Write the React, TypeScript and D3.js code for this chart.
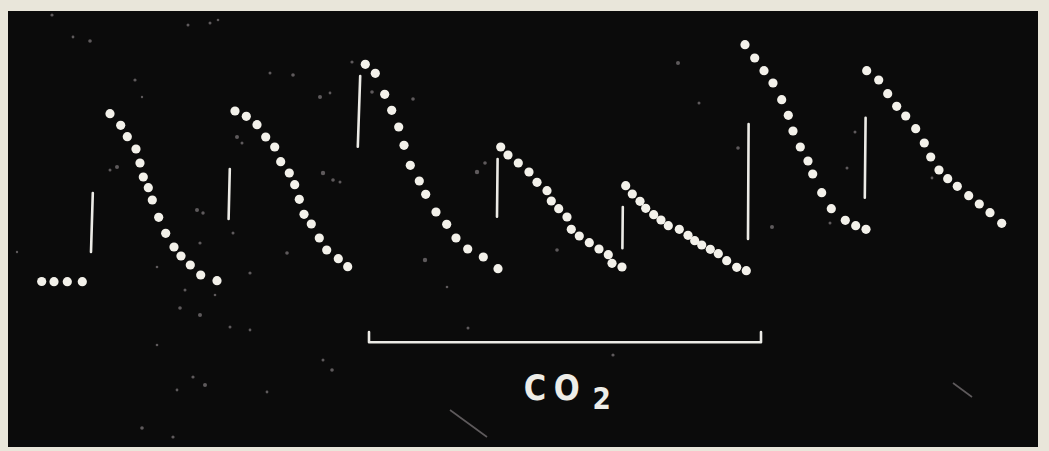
import React, { useEffect, useRef } from "react";
import * as d3 from "d3";

// Kymograph trace: time (px-scale units) vs. height above baseline
const baselineT = [41.7, 54, 67.3, 82.3];
const baselineH = [18.5, 18.3, 18.3, 18.3];

const cycle1T = [110, 120.7, 127.3, 136, 140, 143.3, 148.3, 152.3, 158.7, 165.7, 174, 181, 190.3, 200.7, 217];
const cycle1H = [186.3, 174.7, 163.3, 151, 137, 123, 112.3, 100, 82.7, 66.7, 53, 44, 35, 25, 19.3];

const cycle2T = [235, 246.3, 257, 265.7, 274.7, 280.7, 289.3, 294.7, 299.3, 304, 311.3, 319.3, 326.7, 338.3, 347.7];
const cycle2H = [189, 183.7, 175.3, 163, 153, 138.3, 127, 115.3, 100.7, 85.7, 76, 62, 50, 41.3, 33.3];

const cycle3T = [365.3, 375.3, 384.7, 391.7, 398.7, 404, 410.3, 419.3, 425.7, 436, 446.7, 456, 467.7, 483.3, 498];
const cycle3H = [235.7, 226.7, 205.7, 189.7, 173, 154.7, 134.7, 119, 105.7, 88, 75.7, 62, 51, 43, 31.3];

const cycle4T = [500.7, 508, 518.3, 529, 537, 547, 551.3, 558.7, 567, 571.3, 579.3, 589.3, 599, 608.3, 612, 622];
const cycle4H = [153, 145, 137, 128, 117.7, 109.3, 99, 91.3, 83, 70.7, 64, 57.3, 51, 45.3, 36.7, 33];

const cycle5T = [625.7, 632.3, 640, 645.7, 653.7, 661, 668.3, 679.3, 688, 694.7, 701.7, 710.3, 718.3, 726.7, 736.7, 746.3];
const cycle5H = [114.3, 106, 98.7, 91.7, 85.3, 80, 74.3, 70.7, 64.7, 59.3, 55, 50.7, 46.3, 39.3, 32.7, 29.3];

const cycle6T = [745, 754.7, 764, 773, 781.7, 788.3, 793, 800.3, 808, 812.7, 821.7, 831.3, 845.3, 855.7, 866];
const cycle6H = [255.3, 242, 229.3, 217, 200.3, 184.7, 169, 153, 139, 126, 107.3, 91.3, 79.7, 74.3, 70.7];

const cycle7T = [866.7, 878.7, 887.7, 896.7, 905.7, 915.7, 924.3, 930.7, 939, 947.7, 957.3, 968.7, 979.3, 990, 1001.7];
const cycle7H = [229.3, 220, 206.3, 193.7, 184, 171.3, 157, 143, 130, 121.3, 113.7, 104.3, 96, 87.3, 76.7];

// Stimulus markers (vertical strokes)
const markerTopT = [92.8, 229.8, 360.2, 497.6, 622.8, 748.6, 865.6];
const markerBotT = [91, 228.6, 357.8, 497, 622.4, 748, 864.8];
const markerTopH = [107, 131, 224, 141, 93, 176, 182.3];
const markerBotH = [48, 81, 153.3, 83.3, 51.7, 61, 102.3];

// CO2 period bracket
const bracketT = [369, 761];
const bracketH = [-42.3, -32];
const labelText = ["C", "O", "2"];

// Dust specks on the photographic plate
const dustT = [52, 73, 90, 188, 210, 218, 135, 142, 117, 110, 197, 203, 237, 242, 270, 293, 320, 330, 323, 333, 340, 250, 233, 287, 200, 157, 185, 215,
  180, 200, 230, 157, 193, 205, 177, 332, 323, 142, 173, 267, 250,
  352, 413, 372, 477, 485, 425, 557, 447, 678, 699, 738, 772, 830, 855, 847, 932, 468, 613, 17];
const dustH = [285, 263, 259, 275, 277, 280, 220, 203, 133, 130, 90, 87, 163, 157, 227, 225, 203, 207, 127, 120, 118, 27, 67, 47, 57, 33, 10, 5,
  -8, -15, -27, -45, -77, -85, -90, -70, -60, -128, -137, -92, -30,
  238, 201, 208, 128, 137, 40, 50, 13, 237, 197, 152, 73, 77, 168, 132, 122, -28, -55, 48];
const dustR = [1.6, 1.4, 1.8, 1.5, 1.5, 1.3, 1.6, 1.2, 2, 1.5, 2, 1.7, 2, 1.5, 1.5, 1.8, 2, 1.4, 2.2, 1.8, 1.5, 1.6, 1.5, 1.8, 1.6, 1.3, 1.5, 1.3,
  1.8, 2, 1.5, 1.3, 1.6, 2, 1.4, 1.8, 1.5, 1.8, 1.6, 1.4, 1.4,
  1.6, 1.8, 1.8, 2.2, 1.8, 2.2, 1.8, 1.3, 2, 1.5, 1.8, 2, 1.5, 1.5, 1.5, 1.4, 1.5, 1.6, 1.2];

const cycles: [number[], number[]][] = [
  [baselineT, baselineH],
  [cycle1T, cycle1H],
  [cycle2T, cycle2H],
  [cycle3T, cycle3H],
  [cycle4T, cycle4H],
  [cycle5T, cycle5H],
  [cycle6T, cycle6H],
  [cycle7T, cycle7H],
];

const W = 1049;
const H = 451;

export default function App() {
  const ref = useRef<SVGSVGElement | null>(null);

  useEffect(() => {
    const svg = d3.select(ref.current);
    svg.selectAll("*").remove();

    const x = d3.scaleLinear().domain([0, W]).range([0, W]);
    const y = d3.scaleLinear().domain([0, 300]).range([300, 0]);

    // paper border
    svg.append("rect").attr("x", 0).attr("y", 0).attr("width", W).attr("height", H).attr("fill", "#e9e6da");
    // photographic black field
    svg.append("rect").attr("x", 8).attr("y", 11).attr("width", 1030).attr("height", 436).attr("fill", "#0b0b0b");

    // dust
    svg.append("g")
      .selectAll("circle")
      .data(dustT.map((t, i) => [t, dustH[i], dustR[i]]))
      .enter()
      .append("circle")
      .attr("cx", (d) => x(d[0]))
      .attr("cy", (d) => y(d[1]))
      .attr("r", (d) => d[2])
      .attr("fill", "#5e5a5c");

    // stray scratches
    svg.append("line")
      .attr("x1", x(450)).attr("y1", y(-110)).attr("x2", x(487)).attr("y2", y(-137))
      .attr("stroke", "#5e5a5c").attr("stroke-width", 1.6);
    svg.append("line")
      .attr("x1", x(953)).attr("y1", y(-83)).attr("x2", x(972)).attr("y2", y(-97))
      .attr("stroke", "#5e5a5c").attr("stroke-width", 1.6);

    // markers
    const mg = svg.append("g");
    markerTopT.forEach((t, i) => {
      mg.append("line")
        .attr("x1", x(t))
        .attr("y1", y(markerTopH[i]))
        .attr("x2", x(markerBotT[i]))
        .attr("y2", y(markerBotH[i]))
        .attr("stroke", "#ecebe6")
        .attr("stroke-width", 2.6)
        .attr("stroke-linecap", "round");
    });

    // dots
    const dg = svg.append("g");
    cycles.forEach(([ts, hs]) => {
      dg.selectAll(null)
        .data(ts.map((t, i) => [t, hs[i]]))
        .enter()
        .append("circle")
        .attr("cx", (d) => x(d[0]))
        .attr("cy", (d) => y(d[1]))
        .attr("r", 4.6)
        .attr("fill", "#f3f1ea");
    });

    // CO2 bracket
    const bx0 = x(bracketT[0]);
    const bx1 = x(bracketT[1]);
    const by = y(bracketH[0]);
    const byt = y(bracketH[1]);
    svg.append("path")
      .attr("d", `M${bx0},${byt} L${bx0},${by} L${bx1},${by} L${bx1},${byt}`)
      .attr("fill", "none")
      .attr("stroke", "#ecebe6")
      .attr("stroke-width", 2.6)
      .attr("stroke-linejoin", "round")
      .attr("stroke-linecap", "round");

    // CO2 label
    const lg = svg.append("g")
      .attr("fill", "#eeede8")
      .attr("font-family", "'DejaVu Sans', sans-serif")
      .attr("text-anchor", "middle");
    const centers = [535, 566.7, 601.7];
    const baselines = [400, 400, 409.3];
    const sizes = [36, 36, 31];
    labelText.forEach((ch, i) => {
      lg.append("text")
        .attr("x", centers[i])
        .attr("y", baselines[i])
        .attr("font-size", sizes[i])
        .attr("font-weight", "bold")
        .attr("transform", `translate(${centers[i]},0) scale(0.85,1) translate(${-centers[i]},0)`)
        .text(ch);
    });
  }, []);

  return (
    <svg
      ref={ref}
      width={W}
      height={H}
      style={{ position: "absolute", left: 0, top: 0, display: "block" }}
    />
  );
}
